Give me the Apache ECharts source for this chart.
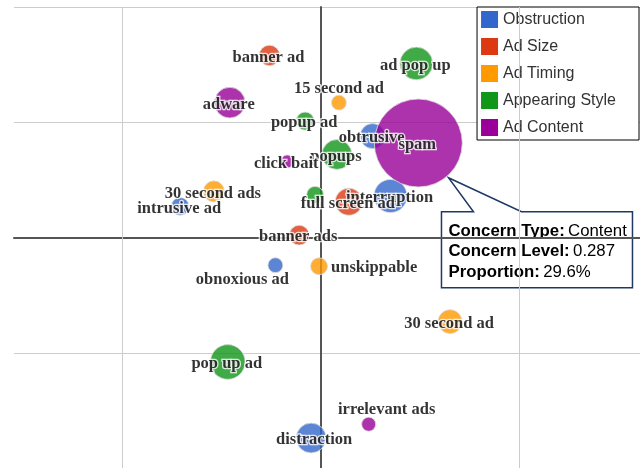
<!DOCTYPE html>
<html>
<head>
<meta charset="utf-8">
<script src="https://cdn.jsdelivr.net/npm/echarts@6/dist/echarts.min.js"></script>
<style>
  html, body { margin: 0; padding: 0; background: #fff; }
  #chart { width: 640px; height: 468px; }
</style>
</head>
<body>
<div id="chart"></div>
<script>
// [dim1, dim2, proportion %, term]
const obstruction = [
  [0.26, 0.88, 2.4, 'obtrusive'],
  [0.35, 0.36, 4.2, 'interruption'],
  [-0.71, 0.27, 1.2, 'intrusive ad'],
  [-0.23, -0.24, 0.85, 'obnoxious ad'],
  [-0.05, -1.74, 3.4, 'distraction']
];
const adSize = [
  [-0.26, 1.58, 1.6, 'banner ad'],
  [0.14, 0.31, 2.8, 'full screen ad'],
  [-0.11, 0.02, 1.5, 'banner ads']
];
const adTiming = [
  [0.09, 1.17, 0.85, '15 second ad'],
  [-0.54, 0.40, 1.7, '30 second ads'],
  [-0.01, -0.25, 1.1, 'unskippable'],
  [0.65, -0.73, 2.2, '30 second ad']
];
const appearingStyle = [
  [0.48, 1.51, 4.1, 'ad pop up'],
  [-0.08, 1.01, 1.25, 'popup ad'],
  [0.08, 0.72, 3.4, 'popups'],
  [-0.03, 0.37, 1.1, 'pop up'],
  [-0.47, -1.08, 4.6, 'pop up ad']
];
const adContent = [
  [-0.46, 1.17, 3.6, 'adware'],
  [0.49, 0.82, 29.6, 'spam'],
  [-0.17, 0.66, 0.65, 'click bait'],
  [0.24, -1.62, 0.75, 'irrelevant ads']
];
const categories = ['Obstruction', 'Ad Size', 'Ad Timing', 'Appearing Style', 'Ad Content'];
const colors = ['#3366CC', '#DC3912', '#FF9900', '#109618', '#990099'];
const spamConcernLevel = 0.287;

// labels that are not centred on their bubble
const labelTweaks = {
  '15 second ad': { offset: [0, -14] },
  'obnoxious ad': { offset: [-33, 15] },
  'unskippable': { position: 'right', distance: 3, offset: [0, 1] },
  'irrelevant ads': { offset: [18, -14] },
  'distraction': { offset: [3, 2] },
  'pop up': { show: false }
};

const chart = echarts.init(document.getElementById('chart'));

function bubbleSize(val) {
  return 88 * Math.sqrt(val[2] / 29.6);
}

function makeSeries(name, arr, color) {
  return {
    name: name,
    type: 'scatter',
    z: 2,
    data: arr.map(d => {
      const item = { name: d[3], value: d };
      if (labelTweaks[d[3]]) item.label = labelTweaks[d[3]];
      return item;
    }),
    symbolSize: bubbleSize,
    itemStyle: {
      color: color,
      opacity: 0.8,
      borderColor: '#ddd',
      borderWidth: 1
    },
    label: {
      show: true,
      position: 'inside',
      offset: [-1, 2],
      formatter: p => p.data.name,
      fontFamily: '"Liberation Serif", "Times New Roman", serif',
      fontWeight: 'bold',
      fontSize: 16.5,
      color: '#000',
      textBorderColor: '#fff',
      textBorderWidth: 2.5
    },
    emphasis: { disabled: true }
  };
}

const allSets = [obstruction, adSize, adTiming, appearingStyle, adContent];
const series = categories.map((c, i) => makeSeries(c, allSets[i], colors[i]));

// vertical grid lines at dim1 = -1 and 1
series.unshift({
  type: 'line',
  data: [],
  z: 1,
  silent: true,
  markLine: {
    silent: true,
    symbol: 'none',
    label: { show: false },
    lineStyle: { color: '#ccc', type: 'solid', width: 1 },
    data: [{ xAxis: -1 }, { xAxis: 1 }]
  }
});

const option = {
  animation: false,
  grid: { left: 14, right: 0, top: 7, bottom: 0 },
  xAxis: {
    type: 'value',
    min: -1.547,
    max: 1.607,
    splitLine: { show: false },
    axisTick: { show: false },
    axisLabel: { show: false },
    axisLine: { show: true, onZero: true, lineStyle: { color: '#555', width: 2 } }
  },
  yAxis: {
    type: 'value',
    min: -2,
    max: 2,
    interval: 1,
    splitLine: { show: true, lineStyle: { color: '#ccc', width: 1 } },
    axisTick: { show: false },
    axisLabel: { show: false },
    axisLine: { show: true, onZero: true, lineStyle: { color: '#555', width: 2 } }
  },
  legend: {
    data: categories,
    orient: 'vertical',
    right: 1,
    top: 7,
    padding: [4, 23, 4, 4],
    itemGap: 10,
    itemWidth: 17,
    itemHeight: 17,
    icon: 'rect',
    backgroundColor: '#fff',
    borderColor: '#000',
    borderWidth: 1,
    borderRadius: 0,
    itemStyle: { opacity: 1, borderWidth: 0 },
    textStyle: {
      fontFamily: '"Liberation Sans", Arial, sans-serif',
      fontSize: 16,
      color: '#333'
    }
  },
  series: series
};

chart.setOption(option);

// callout for the spam bubble
const spam = adContent[1];
const c = chart.convertToPixel({ xAxisIndex: 0, yAxisIndex: 0 }, [spam[0], spam[1]]);
const r = bubbleSize(spam) / 2;
const ang = 49 * Math.PI / 180;
const tip = [c[0] + (r + 2) * Math.cos(ang), c[1] + (r + 2) * Math.sin(ang)];
const bx = tip[0] - 7, by = tip[1] + 34, bw = 191, bh = 76;

chart.setOption({
  graphic: [{
    type: 'group',
    z: 100,
    children: [{
      type: 'polygon',
      shape: {
        points: [
          [bx, by], [bx + 32, by], tip, [bx + 80, by],
          [bx + bw, by], [bx + bw, by + bh], [bx, by + bh]
        ]
      },
      style: { fill: '#fff', stroke: '#1F3864', lineWidth: 1.5 }
    }, {
      type: 'text',
      x: bx + 7,
      y: by + 9,
      style: {
        text: '{b|Concern Type:} {n|Content}\n{b|Concern Level:} {n|' + spamConcernLevel + '}\n{b|Proportion:} {n|' + spam[2] + '%}',
        rich: {
          b: { fontWeight: 'bold', fontSize: 16.8, fontFamily: '"Liberation Sans", Arial, sans-serif', fill: '#000', lineHeight: 20.5 },
          n: { fontSize: 16.8, fontFamily: '"Liberation Sans", Arial, sans-serif', fill: '#000', lineHeight: 20.5 }
        }
      }
    }]
  }]
});
</script>
</body>
</html>
